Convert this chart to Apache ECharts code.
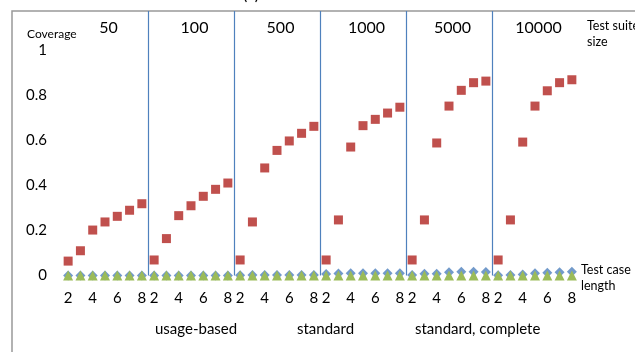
<!DOCTYPE html>
<html>
<head>
<meta charset="utf-8">
<script src="https://cdn.jsdelivr.net/npm/echarts@6/dist/echarts.min.js"></script>
<style>
  html, body { margin: 0; padding: 0; background: #fff; }
  #chart { width: 635px; height: 352px; }
</style>
</head>
<body>
<div id="chart"></div>
<script>
// Test suite sizes (one block of test case lengths per size)
const suiteSizes = ['50', '100', '500', '1000', '5000', '10000'];
// Test case lengths inside each block
const caseLengths = ['2', '3', '4', '5', '6', '7', '8'];
// Y axis tick values
const yTicks = [0, 0.2, 0.4, 0.6, 0.8, 1];
// Texts written under the length axis
const modeNotes = ['usage-based', 'standard', 'standard, complete'];

// Coverage per block, lengths 2..8
const seriesStandardComplete = [
  0, 0, 0, 0, 0, 0, 0,
  0, 0, 0, 0, 0, 0, 0,
  0.001, 0.002, 0.002, 0.002, 0.002, 0.002, 0.002,
  0.007, 0.009, 0.01, 0.01, 0.01, 0.01, 0.01,
  0.002, 0.008, 0.008, 0.014, 0.017, 0.017, 0.016,
  0.001, 0.002, 0.005, 0.01, 0.012, 0.015, 0.017
];
const seriesUsageBased = [
  0.064, 0.11, 0.202, 0.238, 0.263, 0.29, 0.319,
  0.069, 0.164, 0.266, 0.31, 0.352, 0.383, 0.411,
  0.069, 0.238, 0.478, 0.556, 0.598, 0.632, 0.663,
  0.069, 0.247, 0.571, 0.666, 0.694, 0.722, 0.748,
  0.069, 0.247, 0.589, 0.753, 0.823, 0.857, 0.864,
  0.069, 0.247, 0.593, 0.753, 0.821, 0.857, 0.87
];
const seriesStandard = [
  0, 0, 0, 0, 0, 0, 0,
  0, 0, 0, 0, 0, 0, 0,
  0, 0, 0, 0, 0, 0, 0,
  0, 0, 0, 0, 0, 0, 0,
  0, 0, 0, 0, 0, 0, 0,
  0, 0, 0, 0, 0, 0, 0
];

const FONT = 'Lato, "Open Sans", sans-serif';
const BLUE = '#4f81bd', RED = '#c0504d', GREEN = '#9bbb59';

// flat category list: every length repeated for each suite size
const categories = [];
suiteSizes.forEach(() => caseLengths.forEach(l => categories.push(l)));
const perBlock = caseLengths.length;

// plot area reaches above the 1.0 tick up to the frame
const Y_TOP = 1.1756;

const chart = echarts.init(document.getElementById('chart'), null, { renderer: 'canvas' });

chart.setOption({
  animation: false,
  backgroundColor: '#fff',
  grid: { left: 62, right: 57, top: 11, bottom: 76.5 },
  xAxis: [
    {
      type: 'category',
      data: categories,
      position: 'bottom',
      axisLine: { show: false },
      axisTick: { show: false },
      splitLine: { show: false },
      axisLabel: {
        interval: (idx) => (idx % perBlock) % 2 === 0,
        margin: 15,
        fontFamily: FONT,
        fontSize: 15,
        color: '#000'
      }
    },
    {
      // block separators
      type: 'value',
      min: 0,
      max: categories.length,
      interval: perBlock,
      position: 'bottom',
      axisLine: { show: false },
      axisTick: { show: false },
      axisLabel: { show: false },
      splitLine: {
        show: true,
        showMinLine: false,
        showMaxLine: false,
        lineStyle: { color: BLUE, width: 1.2 }
      }
    },
    {
      // suite size headings
      type: 'category',
      data: suiteSizes,
      position: 'top',
      axisLine: { show: false },
      axisTick: { show: false },
      splitLine: { show: false },
      axisLabel: {
        inside: true,
        margin: 9,
        padding: [0, 0, 0, 7],
        fontFamily: FONT,
        fontSize: 16,
        color: '#000'
      }
    }
  ],
  yAxis: {
    type: 'value',
    min: 0,
    max: Y_TOP,
    interval: 0.2,
    axisLine: { show: false },
    axisTick: { show: false },
    splitLine: { show: false },
    axisLabel: {
      showMaxLabel: false,
      margin: 15,
      fontFamily: FONT,
      fontSize: 15,
      color: '#000',
      formatter: (v) => {
        const t = yTicks.find(k => Math.abs(k - v) < 1e-6);
        return t === undefined ? '' : String(t);
      }
    }
  },
  series: [
    {
      name: 'standard, complete',
      type: 'scatter',
      data: seriesStandardComplete,
      symbol: 'diamond',
      symbolSize: 10,
      itemStyle: { color: BLUE },
      z: 2
    },
    {
      name: 'usage-based',
      type: 'scatter',
      data: seriesUsageBased,
      symbol: 'rect',
      symbolSize: 9,
      itemStyle: { color: RED, opacity: 1 },
      z: 3
    },
    {
      name: 'standard',
      type: 'scatter',
      data: seriesStandard,
      symbol: 'triangle',
      symbolSize: [10, 10],
      itemStyle: { color: GREEN, opacity: 1 },
      z: 4
    }
  ],
  graphic: [
    {
      type: 'rect',
      shape: { x: 12, y: 11, width: 700, height: 400 },
      style: { fill: 'none', stroke: '#999', lineWidth: 1.5 },
      silent: true
    },
    {
      type: 'text', x: 243, y: -13,
      style: { text: '(a)', font: '16px ' + FONT, fill: '#000' }
    },
    {
      type: 'text', x: 27, y: 34,
      style: { text: 'Coverage', font: '12px ' + FONT, fill: '#000', verticalAlign: 'middle' }
    },
    {
      type: 'text', x: 587, y: 18,
      style: { text: 'Test suite\nsize', font: '12.5px ' + FONT, lineHeight: 16, fill: '#000' }
    },
    {
      type: 'text', x: 581, y: 262,
      style: { text: 'Test case\nlength', font: '12.5px ' + FONT, lineHeight: 16, fill: '#000' }
    },
    {
      type: 'text', x: 155, y: 329,
      style: { text: modeNotes[0], font: '15px ' + FONT, fill: '#000', verticalAlign: 'middle' }
    },
    {
      type: 'text', x: 297, y: 329,
      style: { text: modeNotes[1], font: '15px ' + FONT, fill: '#000', verticalAlign: 'middle' }
    },
    {
      type: 'text', x: 415, y: 329,
      style: { text: modeNotes[2], font: '15px ' + FONT, fill: '#000', verticalAlign: 'middle' }
    }
  ]
});
</script>
</body>
</html>
